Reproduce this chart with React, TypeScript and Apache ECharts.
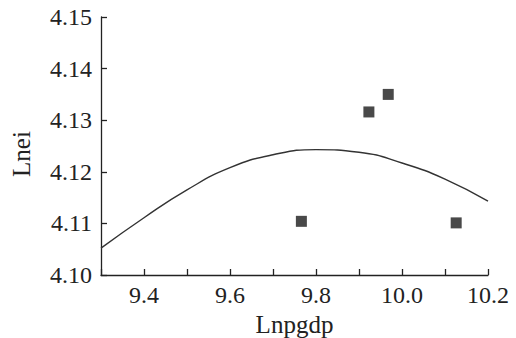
import React, { useEffect, useRef } from "react";
import * as echarts from "echarts";

const xMin = 9.3;
const xMax = 10.2;
const yMin = 4.1;
const yMax = 4.15;

// observed points (Lnpgdp, Lnei)
const scatterX = [9.766, 9.923, 9.968, 10.126];
const scatterY = [4.1104, 4.1316, 4.135, 4.1101];

// fitted curve
const curveX = [9.3, 9.4, 9.5, 9.6, 9.7, 9.8, 9.9, 10.0, 10.1, 10.2];
const curveY = [4.1052, 4.1111, 4.1165, 4.1208, 4.1233, 4.1243, 4.1238, 4.1217, 4.1186, 4.1143];

const xName = "Lnpgdp";
const yName = "Lnei";

const FONT = "Times New Roman, Liberation Serif, serif";
const INK = "#222";

export default function App() {
  const ref = useRef<HTMLDivElement>(null);
  useEffect(() => {
    if (!ref.current) return;
    const chart = echarts.init(ref.current, undefined, { renderer: "svg" });
    chart.setOption({
      animation: false,
      backgroundColor: "#fff",
      textStyle: { fontFamily: FONT },
      grid: { left: 101, right: 28, top: 17, bottom: 63, outerBoundsMode: "none" },
      xAxis: {
        type: "value",
        min: xMin,
        max: xMax,
        interval: 0.1,
        name: xName,
        nameLocation: "middle",
        nameGap: 34,
        nameTextStyle: { fontFamily: FONT, fontSize: 25, color: INK },
        axisLine: { show: true, lineStyle: { color: INK, width: 1.3 } },
        axisTick: { show: true, inside: true, length: 6, lineStyle: { color: INK, width: 1.3 } },
        splitLine: { show: false },
        axisLabel: {
          fontFamily: FONT,
          fontSize: 24,
          color: INK,
          margin: 8,
          showMinLabel: true,
          showMaxLabel: true,
          formatter: (v: number) => (Math.round(v * 10) % 2 === 0 ? v.toFixed(1) : ""),
        },
      },
      yAxis: {
        type: "value",
        min: yMin,
        max: yMax,
        interval: 0.01,
        name: yName,
        nameLocation: "middle",
        nameGap: 67,
        nameRotate: 90,
        nameTextStyle: { fontFamily: FONT, fontSize: 25, color: INK, padding: [0, 16, 0, 0] },
        axisLine: { show: true, lineStyle: { color: INK, width: 1.3 } },
        axisTick: { show: true, inside: true, length: 6, lineStyle: { color: INK, width: 1.3 } },
        splitLine: { show: false },
        axisLabel: {
          fontFamily: FONT,
          fontSize: 24,
          color: INK,
          margin: 9,
          formatter: (v: number) => v.toFixed(2),
        },
      },
      series: [
        {
          type: "line",
          data: curveX.map((x, i) => [x, curveY[i]]),
          smooth: true,
          showSymbol: false,
          symbol: "none",
          lineStyle: { color: "#333", width: 1.4 },
          z: 2,
        },
        {
          type: "scatter",
          data: scatterX.map((x, i) => [x, scatterY[i]]),
          symbol: "rect",
          symbolSize: 11,
          itemStyle: { color: "#1c1c1c" },
          z: 3,
        },
      ],
    });
    return () => chart.dispose();
  }, []);
  return (
    <div
      ref={ref}
      style={{ position: "fixed", left: 0, top: 0, width: 516, height: 338 }}
    />
  );
}
